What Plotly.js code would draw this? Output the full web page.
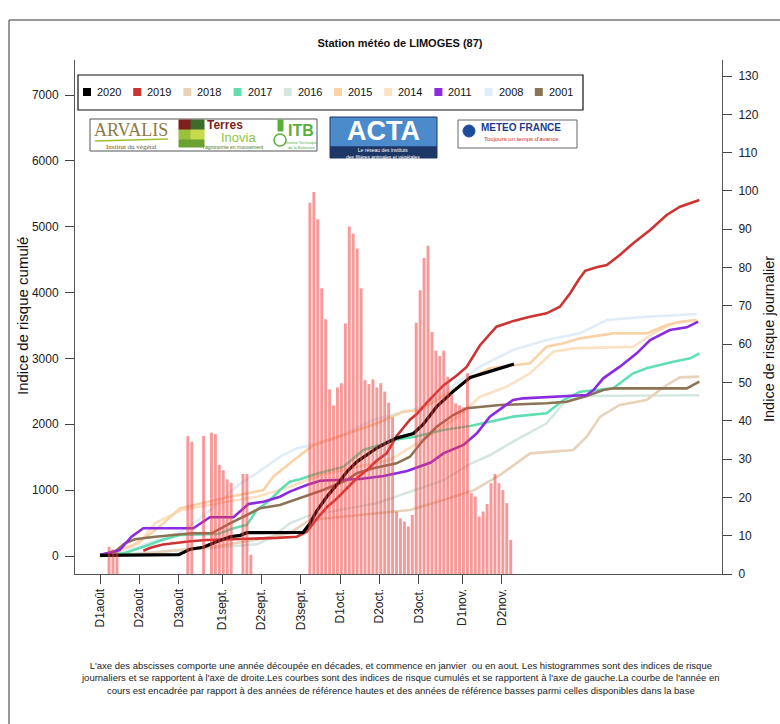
<!DOCTYPE html>
<html>
<head>
<meta charset="utf-8">
<script src="https://cdn.plot.ly/plotly-3.0.1.min.js"></script>
<style>
  body { margin: 0; background: #fff; }
  #chart { width: 780px; height: 724px; }
</style>
</head>
<body>
<div id="chart"></div>
<script>
// x is counted in days from 1 August (D1août = 0)
var tickDays = [0, 10, 20, 31, 41, 51, 61, 71, 81, 92, 102];
var tickLabels = ['D1août', 'D2août', 'D3août', 'D1sept.', 'D2sept.', 'D3sept.',
                  'D1oct.', 'D2oct.', 'D3oct.', 'D1nov.', 'D2nov.'];

// daily risk index 2020 (right axis)
var barDays = [2, 3, 4, 22, 23, 26, 28, 29, 30, 31, 32, 33, 36, 37, 38,
  53, 54, 55, 56, 57, 58, 59, 60, 61, 62, 63, 64, 65, 66, 67, 68, 69, 70, 71, 72, 73, 74, 75, 76, 77, 78, 79, 80,
  81, 82, 83, 84, 85, 86, 87, 88, 89, 90, 91, 92, 93, 94, 95, 96, 97, 98, 99, 100, 101, 102, 103, 104];
var barValues = [7.1, 6.4, 5.8, 36.0, 34.5, 36.0, 36.9, 36.5, 28.5, 27.1, 24.7, 23.8, 26.1, 26.1, 5.0,
  96.9, 99.7, 92.6, 74.6, 66.5, 48.2, 44.0, 48.7, 49.8, 65.4, 90.7, 88.9, 85.0, 74.6, 50.6, 49.6, 50.8, 48.7, 49.8, 47.6, 44.7, 40.9, 16.3, 14.5, 13.7, 12.4, 15.4, 65.6,
  74.1, 82.5, 85.7, 63.2, 58.3, 56.9, 58.3, 51.5, 47.0, 44.5, 44.0, 43.5, 52.4, 21.1, 20.2, 15.0, 16.3, 18.3, 23.7, 26.1, 23.7, 21.9, 18.5, 8.9];

// cumulative risk index per year (left axis)
var days2020 = [0, 20, 22.9, 26.2, 29.6, 33, 35.6, 37.3, 51.6, 53.3, 55, 57.6, 60.1, 62.7, 65.2, 67.7, 70.3, 72.8, 75.3, 79.6, 82.1, 85.5, 89.7, 94, 98.2, 101.6, 104.1, 105.1];
var cum2020 = [10, 20, 102, 132, 217, 293, 314, 354, 360, 496, 680, 900, 1080, 1280, 1430, 1540, 1640, 1720, 1790, 1860, 2000, 2267, 2500, 2710, 2790, 2850, 2900, 2915];

var days2019 = [11, 13, 16, 19, 23, 27, 35, 45, 50, 52.5, 55, 57.6, 60.1, 62.7, 65.2, 67.7, 70.3, 72.8, 73.6, 75.3, 78.7, 80.5, 83, 87.2, 90.6, 93.1, 96.5, 100.7, 105, 109.2, 113.4, 116.8, 119.4, 121.5, 123.2, 126.1, 128.7, 132, 135.4, 139.7, 143.9, 147.3, 152.2];
var cum2019 = [80, 130, 175, 200, 225, 243, 255, 275, 293, 369, 560, 740, 870, 1030, 1180, 1300, 1450, 1560, 1650, 1820, 2070, 2160, 2330, 2590, 2740, 2870, 3200, 3482, 3570, 3634, 3685, 3786, 3989, 4191, 4330, 4384, 4419, 4571, 4748, 4950, 5178, 5304, 5406];

var days2018 = [0, 10, 20, 30, 40, 48.2, 53.3, 70.3, 78.7, 87.2, 95, 101.6, 109.2, 120.2, 123.6, 127, 132, 138.8, 143.9, 147.3, 152.2];
var cum2018 = [0, 30, 90, 150, 250, 350, 547, 650, 698, 850, 1000, 1230, 1559, 1610, 1812, 2116, 2293, 2369, 2597, 2713, 2723];

var days2017 = [0, 6, 12.3, 15.7, 20.3, 30, 33.9, 37.3, 39.8, 43.2, 45.7, 48.2, 50.8, 55, 61.8, 66.9, 72.5, 74.5, 80, 87.2, 94, 99, 104.9, 113.4, 117.7, 121.9, 130.3, 135.4, 138.8, 145.6, 149.9, 152.2];
var cum2017 = [0, 40, 167, 243, 320, 334, 421, 471, 698, 850, 1002, 1128, 1165, 1250, 1356, 1610, 1711, 1761, 1812, 1913, 1975, 2040, 2116, 2167, 2369, 2495, 2546, 2774, 2850, 2950, 3001, 3077];

var days2016 = [0, 10, 20, 30, 40, 44, 48.2, 53.3, 70.3, 80, 87.2, 94, 99, 104.9, 113.4, 117.7, 121.9, 152.2];
var cum2016 = [0, 40, 90, 130, 180, 300, 496, 620, 800, 1000, 1150, 1400, 1530, 1736, 2015, 2319, 2430, 2440];

var days2015 = [0, 8, 12, 15.2, 20.3, 33, 41.5, 44, 48.2, 54.2, 60, 70.3, 77, 81.3, 89, 94, 99, 104.9, 109.2, 113.4, 117.7, 121.9, 130.3, 138.8, 143.9, 147.3, 151.5];
var cum2015 = [0, 150, 300, 450, 724, 900, 1002, 1204, 1407, 1686, 1800, 2015, 2192, 2217, 2500, 2700, 2850, 2900, 2926, 3178, 3229, 3305, 3381, 3381, 3508, 3558, 3584];

var days2014 = [0, 10, 14, 20.8, 30, 40, 48.2, 56, 61, 73.6, 82, 90.6, 96.5, 103.3, 109.2, 115.1, 120.2, 135.4, 140.5, 145.6, 151.5];
var cum2014 = [0, 200, 500, 700, 800, 900, 1053, 1230, 1300, 1458, 1761, 2100, 2419, 2571, 2774, 3102, 3153, 3178, 3381, 3533, 3584];

var days2011 = [0, 5, 8, 11, 23.7, 27.9, 33.9, 37.7, 41.5, 45.7, 48.2, 52.5, 55.9, 66, 72, 78, 84, 87.2, 92.3, 95.7, 99, 104.9, 107.5, 123.6, 125.3, 127.8, 132, 136.3, 139.7, 144.7, 149, 151.9];
var cum2011 = [15, 91, 293, 421, 421, 588, 588, 790, 825, 900, 977, 1078, 1143, 1170, 1215, 1290, 1420, 1559, 1686, 1863, 2116, 2369, 2394, 2445, 2521, 2698, 2875, 3077, 3280, 3432, 3472, 3558];

var days2008 = [0, 5, 10, 15, 20, 25, 30, 35.6, 39.8, 45.7, 50, 55.9, 60, 69.4, 82, 90, 96.5, 104.9, 113.4, 121.9, 128.7, 138.8, 151.5];
var cum2008 = [0, 50, 150, 250, 350, 550, 800, 1100, 1256, 1508, 1635, 1711, 1800, 2065, 2267, 2600, 2875, 3128, 3280, 3381, 3584, 3634, 3675];

var days2001 = [0, 3.8, 6.3, 8.9, 14, 18.2, 23.3, 28.4, 33, 37.3, 40.6, 45.7, 50.8, 56.7, 62.7, 65.2, 69.4, 75.3, 78.7, 82.1, 85.5, 89.7, 93.1, 98, 101.6, 113.4, 118.5, 123.6, 127.8, 130.3, 149, 152.2];
var cum2001 = [15, 65, 193, 254, 293, 319, 345, 345, 496, 622, 724, 774, 876, 1002, 1154, 1256, 1332, 1407, 1508, 1761, 1963, 2141, 2243, 2267, 2293, 2319, 2343, 2430, 2521, 2546, 2546, 2647];

var years = ['2020', '2019', '2018', '2017', '2016', '2015', '2014', '2011', '2008', '2001'];
var yearColors = ['#000000', '#cd3333', '#e6d3ba', '#62dfb0', '#d5e8df', '#f8d3a8', '#fce0c2', '#8a2be2', '#e0edf9', '#8b7355'];
var yearDays = [days2020, days2019, days2018, days2017, days2016, days2015, days2014, days2011, days2008, days2001];
var yearCum = [cum2020, cum2019, cum2018, cum2017, cum2016, cum2015, cum2014, cum2011, cum2008, cum2001];

// pixel helpers for layout items (plot area 75..722 x 60..574)
function px(x) { return (x - 75) / 647; }
function py(y) { return (574 - y) / 514; }

var font = 'Liberation Sans, Arial, sans-serif';

var data = [];
// pale years first, black on top
var drawOrder = [8, 4, 6, 5, 2, 3, 9, 7, 1, 0];
drawOrder.forEach(function(i) {
    data.push({
        type: 'scatter',
        mode: 'lines',
        name: years[i],
        x: yearDays[i],
        y: yearCum[i],
        line: {color: yearColors[i], width: i === 0 ? 3.2 : 2.6},
        xaxis: 'x',
        yaxis: 'y',
        hoverinfo: 'skip'
    });
});
data.push({
    type: 'bar',
    name: 'journalier',
    x: barDays,
    y: barValues,
    width: 0.75,
    offset: -0.075,
    marker: {color: 'rgba(238,70,70,0.55)', line: {width: 0}},
    xaxis: 'x',
    yaxis: 'y2',
    hoverinfo: 'skip'
});

function rect(x0, y0, x1, y1, fill, lineColor, lw) {
    return {type: 'rect', xref: 'paper', yref: 'paper', layer: 'above',
        x0: px(x0), x1: px(x1), y0: py(y0), y1: py(y1),
        fillcolor: fill, line: {color: lineColor || fill, width: lw === undefined ? 1 : lw}};
}
function label(x, y, text, size, color, opts) {
    var a = {xref: 'paper', yref: 'paper', x: px(x), y: py(y), text: text, showarrow: false,
        xanchor: 'center', yanchor: 'middle', font: {family: font, size: size, color: color}};
    for (var k in opts) a[k] = opts[k];
    return a;
}

var shapes = [
    // outer frame
    {type: 'rect', xref: 'paper', yref: 'paper', x0: px(9), x1: px(800), y0: py(20), y1: py(760),
     line: {color: '#333', width: 1}, fillcolor: 'rgba(0,0,0,0)', layer: 'below'},
    // legend box
    rect(78, 75, 583, 110, '#ffffff', '#111', 1.2),
    // logo block 1 : Arvalis / Terres Inovia / ITB
    rect(90, 119, 317, 151, '#ffffff', '#555', 1),
    {type: 'line', xref: 'paper', yref: 'paper', layer: 'above', x0: px(95), x1: px(168), y0: py(141), y1: py(139),
     line: {color: '#9cbf2e', width: 1.5}},
    rect(179, 120, 191, 130, '#7d1f1c'),
    rect(191, 120, 204, 130, '#3d6b2a'),
    rect(179, 130, 191, 140, '#9bc13c'),
    rect(191, 130, 204, 140, '#c7da4c'),
    rect(179, 140, 204, 147, '#6aa130'),
    {type: 'circle', xref: 'paper', yref: 'paper', layer: 'above', x0: px(274), x1: px(286), y0: py(134), y1: py(146),
     line: {color: '#5aae3a', width: 1.5}, fillcolor: '#ffffff'},
    rect(278, 120, 283, 131, '#5aae3a'),
    // ACTA
    rect(330, 117, 437, 147, '#4b8bcc', '#1d3766', 1),
    rect(330, 147, 437, 158, '#1d3766', '#1d3766', 1),
    // Meteo France
    rect(458, 120, 577, 148, '#ffffff', '#666', 1),
    {type: 'circle', xref: 'paper', yref: 'paper', layer: 'above', x0: px(463), x1: px(475), y0: py(125), y1: py(137),
     line: {color: '#1d4c9c', width: 1}, fillcolor: '#1d4c9c'}
];

var annotations = [
    label(22, 316, 'Indice de risque cumulé', 15, '#111', {textangle: -90}),
    label(769, 339, 'Indice de risque journalier', 14.5, '#111', {textangle: -90}),
    label(400, 678,
        "L'axe des abscisses comporte une année découpée en décades, et commence en janvier  ou en aout. Les histogrammes sont des indices de risque<br>" +
        "journaliers et se rapportent à l'axe de droite.Les courbes sont des indices de risque cumulés et se rapportent à l'axe de gauche.La courbe de l'année en<br>" +
        "cours est encadrée par rapport à des années de référence hautes et des années de référence basses parmi celles disponibles dans la base",
        9.5, '#222', {align: 'center'}),
    // logos text
    label(131, 130, 'ARVALIS', 18, '#8c7b45', {font: {family: 'Liberation Serif, serif', size: 18, color: '#8c7b45'}}),
    label(131, 147, 'Institut du végétal', 7, '#6b5a2a', {font: {family: 'Liberation Serif, serif', size: 7, color: '#6b5a2a'}}),
    label(225, 125, '<b>Terres</b>', 12, '#7d1f1c'),
    label(238, 137, 'Inovia', 13, '#8dc63f'),
    label(233, 147, "l'agronomie en mouvement", 5, '#4b7a26'),
    label(301, 131, '<b>ITB</b>', 16, '#5aae3a'),
    label(302, 145, 'Institut Technique<br>de la Betterave', 4, '#5aae3a'),
    label(383, 131, '<b>ACTA</b>', 27, '#ffffff'),
    label(383, 153, 'Le réseau des instituts<br>des filières animales et végétales', 5, '#ffffff'),
    label(521, 128, '<b>METEO FRANCE</b>', 10, '#1d3c8c'),
    label(521, 139, "Toujours un temps d'avance", 6, '#d22b2b')
];

// legend: squares and year labels
years.forEach(function(y, i) {
    var sx = 83 + i * 50.2;
    shapes.push(rect(sx, 88, sx + 8, 96, yearColors[i], yearColors[i], 0));
    annotations.push(label(sx + 12, 92, y, 11, '#111', {xanchor: 'left'}));
});

var layout = {
    width: 780,
    height: 724,
    margin: {l: 75, r: 58, t: 60, b: 150, pad: 0},
    paper_bgcolor: '#ffffff',
    plot_bgcolor: '#ffffff',
    showlegend: false,
    font: {family: font, size: 12, color: '#222'},
    title: {
        text: '<b>Station météo de LIMOGES (87)</b>',
        x: 400 / 780, xanchor: 'center',
        y: 1 - 43 / 724, yanchor: 'middle',
        font: {family: font, size: 11, color: '#111'}
    },
    xaxis: {
        range: [-6.35, 157.95],
        tickvals: tickDays,
        ticktext: tickLabels,
        tickangle: -90,
        ticks: 'outside', ticklen: 9, tickcolor: '#444', tickwidth: 1,
        showline: true, linecolor: '#555', linewidth: 1,
        showgrid: false, zeroline: false,
        tickfont: {size: 12, color: '#222'}
    },
    yaxis: {
        range: [-273.3, 7531.5],
        tickvals: [0, 1000, 2000, 3000, 4000, 5000, 6000, 7000],
        ticks: 'outside', ticklen: 9, tickcolor: '#444', tickwidth: 1,
        ticklabelstandoff: 4,
        showline: true, linecolor: '#555', linewidth: 1,
        showgrid: false, zeroline: false,
        tickfont: {size: 12, color: '#222'}
    },
    yaxis2: {
        overlaying: 'y',
        side: 'right',
        range: [0, 134.18],
        tickvals: [0, 10, 20, 30, 40, 50, 60, 70, 80, 90, 100, 110, 120, 130],
        ticks: 'outside', ticklen: 9, tickcolor: '#444', tickwidth: 1,
        ticklabelstandoff: 4,
        showline: true, linecolor: '#555', linewidth: 1,
        showgrid: false, zeroline: false,
        tickfont: {size: 12, color: '#222'}
    },
    shapes: shapes,
    annotations: annotations
};

Plotly.newPlot('chart', data, layout, {displayModeBar: false, staticPlot: true});
</script>
</body>
</html>
